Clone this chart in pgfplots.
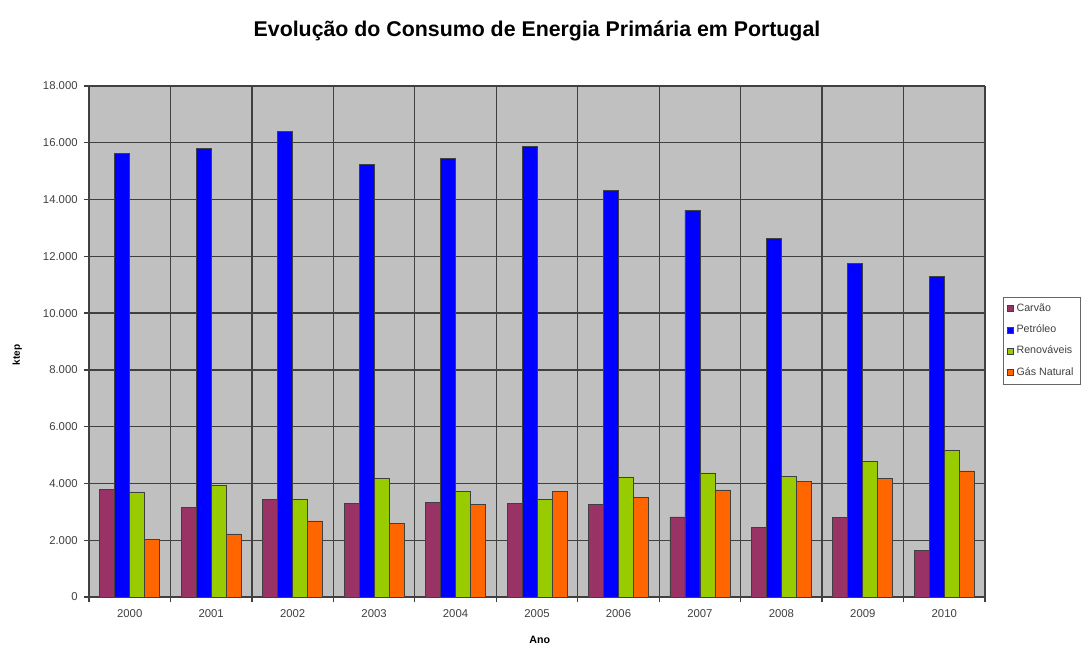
\documentclass[border=0pt]{standalone}
\usepackage{pgfplots}
\pgfplotsset{compat=1.18}
\usepackage{fontspec}
\setmainfont{Liberation Sans}
\definecolor{carvao}{HTML}{993366}
\definecolor{petroleo}{HTML}{0000FF}
\definecolor{renov}{HTML}{99CC00}
\definecolor{gas}{HTML}{FF6600}
\definecolor{plotbg}{HTML}{C0C0C0}
\definecolor{ticktxt}{HTML}{404040}
\begin{document}
\begin{tikzpicture}
% page = 1088x648 px at 0.75pt per px; axis box corner at px (89,597)
\useasboundingbox (-66.75pt,-38.25pt) rectangle (749.25pt,447.75pt);
\begin{axis}[
  at={(0,0)}, anchor=south west,
  scale only axis,
  width=672pt, height=383.25pt,
  ybar=0pt,
  bar width=11.25pt,
  xmin=-0.5, xmax=10.5,
  ymin=0, ymax=18000,
  xtick={0,...,10},
  xticklabels={2000,2001,2002,2003,2004,2005,2006,2007,2008,2009,2010},
  minor xtick={-0.5,0.5,...,10.5},
  ytick={0,2000,...,18000},
  major x tick style={draw=none},
  minor x tick style={draw=black!75, line width=1pt},
  ytick style={draw=black!75, line width=1pt},
  tick align=outside,
  major tick length=4pt, minor tick length=4pt,
  xtick pos=bottom, ytick pos=left,
  xmajorgrids=false, xminorgrids=true, ymajorgrids=true,
  minor x grid style={black!75, line width=1pt},
  y grid style={black!75, line width=1pt},
  axis background/.style={fill=plotbg},
  axis line style={black!75, line width=1pt},
  axis x line*=bottom, axis y line*=left,
  /pgf/number format/assume math mode=true,
  /pgf/number format/1000 sep={.},
  scaled y ticks=false,
  tick label style={font=\fontsize{8.5}{9}\selectfont, text=ticktxt},
  yticklabel style={xshift=-1pt},
  xticklabel style={yshift=-2pt},
  ylabel={\textbf{ktep}},
  ylabel style={font=\fontsize{7.5}{8}\selectfont, at={(axis description cs:-0.080,0.474)}, anchor=center},
  xlabel={\textbf{Ano}},
  xlabel style={font=\fontsize{8}{9}\selectfont, at={(axis description cs:0.503,-0.084)}, anchor=center},
  title={\textbf{Evolução do Consumo de Energia Primária em Portugal}},
  title style={font=\fontsize{16}{18}\selectfont, at={(axis description cs:0.5,1.092)}, anchor=center},
  legend style={at={(1.02,0.587)}, anchor=north west, draw=black!60, fill=white,
    font=\fontsize{8}{9}\selectfont, text=ticktxt, row sep=4.5pt, inner sep=3pt},
  legend cell align=left,
  area legend,
  legend image code/.code={\draw[#1] (0cm,-0.08cm) rectangle (0.16cm,0.08cm);},
  every axis plot/.append style={draw=black!75, line width=0.5pt},
]
\addplot[fill=carvao] coordinates {(0,3800) (1,3170) (2,3450) (3,3310) (4,3320) (5,3310) (6,3270) (7,2820) (8,2460) (9,2810) (10,1650)};
\addplot[fill=petroleo] coordinates {(0,15630) (1,15810) (2,16410) (3,15250) (4,15460) (5,15880) (6,14330) (7,13620) (8,12640) (9,11760) (10,11300)};
\addplot[fill=renov] coordinates {(0,3700) (1,3920) (2,3450) (3,4190) (4,3730) (5,3450) (6,4230) (7,4370) (8,4260) (9,4790) (10,5180)};
\addplot[fill=gas] coordinates {(0,2040) (1,2220) (2,2680) (3,2600) (4,3250) (5,3730) (6,3520) (7,3770) (8,4080) (9,4190) (10,4440)};
\legend{Carvão,Petróleo,Renováveis,Gás Natural}
\end{axis}
\end{tikzpicture}
\end{document}
